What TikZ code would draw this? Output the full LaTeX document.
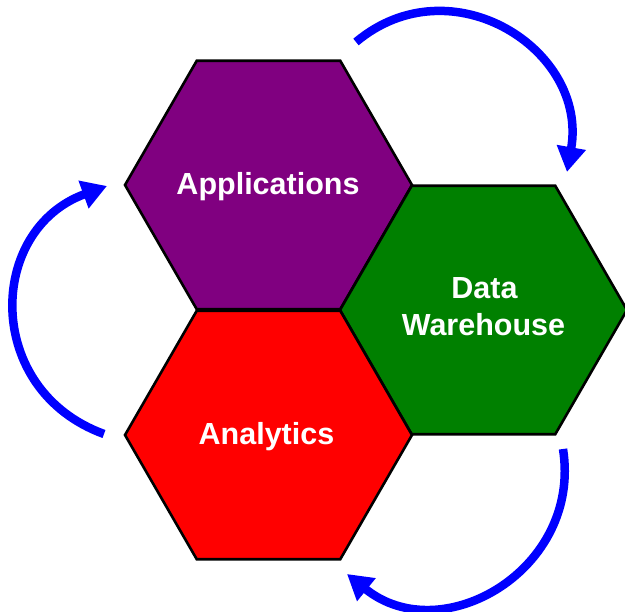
\documentclass[tikz,border=0pt]{standalone}
\usepackage{fontspec}
\setmainfont{Liberation Sans}
\usetikzlibrary{shapes.geometric,arrows.meta}
\definecolor{hexpurple}{RGB}{128,0,128}
\definecolor{hexgreen}{RGB}{0,128,0}
\definecolor{hexred}{RGB}{255,0,0}
\definecolor{arrowblue}{RGB}{0,0,255}
\tikzset{
  hexagon/.style={regular polygon, regular polygon sides=6, minimum size=287pt,
    inner sep=0pt, outer sep=0pt, draw=black, line width=2.6pt},
  label/.style={anchor=base, text=white, inner sep=0pt,
    font=\fontsize{30.5}{36.5}\selectfont\bfseries},
  cyclearrow/.style={draw=arrowblue, line width=8.5pt,
    -{Triangle[length=25pt,width=28pt]}}
}
\begin{document}
\begin{tikzpicture}[x=1pt,y=-1pt]
\clip (0,0) rectangle (625,612);
\fill[white] (0,0) rectangle (625,612);
% hexagons
\node[hexagon, fill=hexpurple] (app) at (268.5,185) {};
\node[hexagon, fill=hexgreen] (dw) at (483.5,310) {};
\node[hexagon, fill=hexred] (ana) at (268.5,435) {};
% labels
\node[label] (tapp) at (268,195) {Applications};
\node[label] (tdata) at (484.5,299) {Data};
\node[label] (twh) at (483.5,336) {Warehouse};
\node[label] (tana) at (266.5,445) {Analytics};
% arrows
\coordinate (s1) at (356,42);
\coordinate (e1) at (567,172);
\coordinate (s2) at (563,449);
\coordinate (e2) at (347,574);
\coordinate (s3) at (104,434);
\coordinate (e3) at (107,186);
\draw[cyclearrow] (s1) to[out=40,in=80,looseness=1.28] (e1);
\draw[cyclearrow] (s2) to[out=-81,in=-39,looseness=1.25] (e2);
\draw[cyclearrow] (s3) to[out=160,in=200,looseness=1.32] (e3);
\end{tikzpicture}
\end{document}
